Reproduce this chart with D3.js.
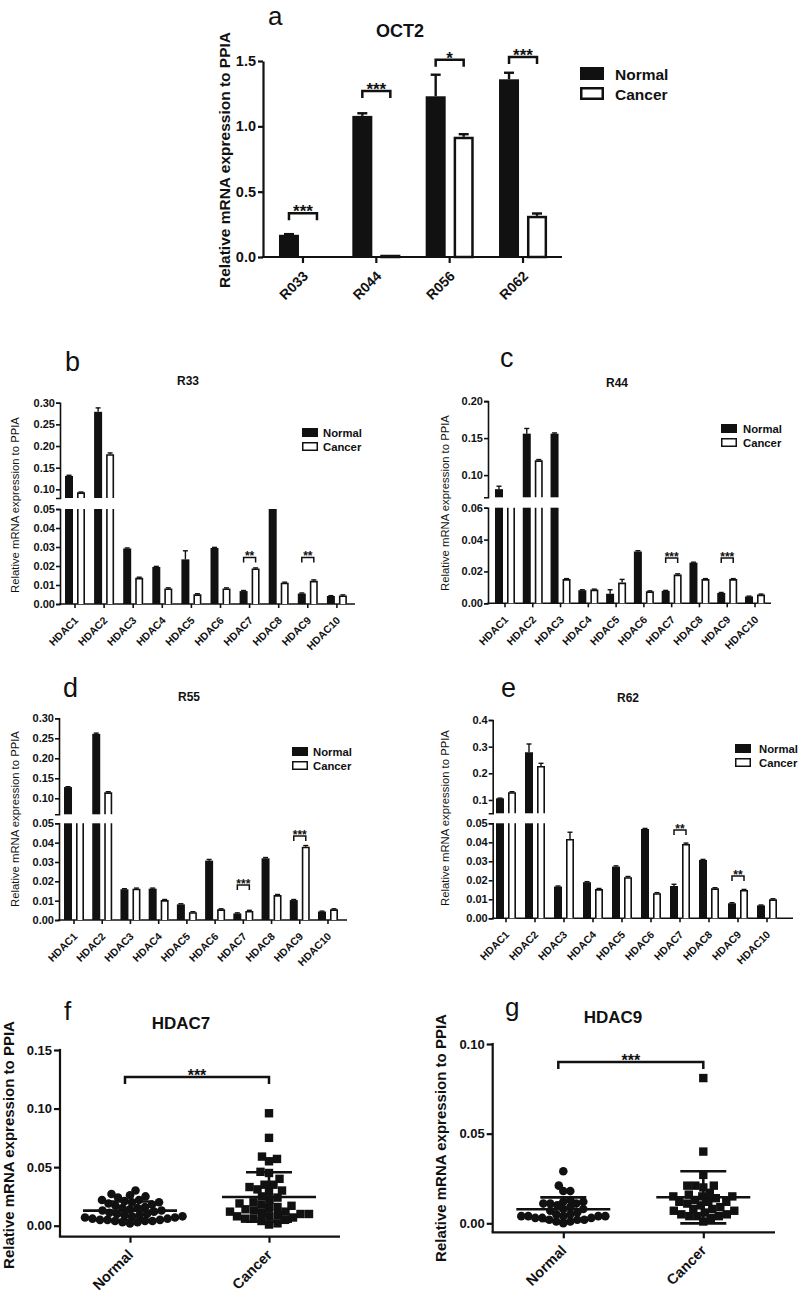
<!DOCTYPE html>
<html><head><meta charset="utf-8">
<script src="https://cdn.jsdelivr.net/npm/d3@7"></script>
<style>
body{margin:0;background:#fff}
svg{display:block}
text{font-family:'Liberation Sans',Arial,Helvetica,sans-serif;fill:#111}
</style>
</head><body>
<svg id="fig" width="800" height="1292"></svg>
<script>
// ---------------- DATA ----------------
// Panel a : OCT2
const oct2Samples = ["R033", "R044", "R056", "R062"];
const oct2Normal = [0.17, 1.08, 1.23, 1.36];
const oct2NormalErr = [0.005, 0.02, 0.165, 0.05];
const oct2Cancer = [0.0, 0.005, 0.92, 0.315];
const oct2CancerErr = [0, 0.001, 0.02, 0.018];
const oct2Sig = ["***", "***", "*", "***"];
const oct2SigY = [0.335, 1.27, 1.51, 1.53];
const oct2Ticks = [0, 0.5, 1.0, 1.5];

// Panels b-e : HDAC genes
const hdacGenes = ["HDAC1","HDAC2","HDAC3","HDAC4","HDAC5","HDAC6","HDAC7","HDAC8","HDAC9","HDAC10"];

const r33Normal    = [0.131, 0.279, 0.0292, 0.0195, 0.0235, 0.0295, 0.0068, 0.065, 0.0055, 0.0042];
const r33NormalErr = [0.0015, 0.009, 0.0003, 0.0003, 0.0045, 0.0003, 0.0003, 0, 0.0003, 0.0002];
const r33Cancer    = [0.093, 0.181, 0.0138, 0.0082, 0.0051, 0.0082, 0.0187, 0.0112, 0.0122, 0.0045];
const r33CancerErr = [0.0008, 0.003, 0.0003, 0.0003, 0.0003, 0.0003, 0.0003, 0.0003, 0.0005, 0.0003];
const r33SigIdx = [6, 8];
const r33SigY = [0.0245, 0.0245];
const r33SigText = ["**", "**"];

const r44Normal    = [0.081, 0.156, 0.156, 0.0082, 0.006, 0.0325, 0.0078, 0.0255, 0.0065, 0.0043];
const r44NormalErr = [0.004, 0.007, 0.001, 0.0003, 0.0025, 0.0005, 0.0003, 0.0003, 0.0003, 0.0002];
const r44Cancer    = [0.065, 0.120, 0.0152, 0.0086, 0.013, 0.0075, 0.018, 0.0152, 0.0152, 0.0055];
const r44CancerErr = [0, 0.001, 0.0003, 0.0003, 0.002, 0.0003, 0.0005, 0.0003, 0.0003, 0.0003];
const r44SigIdx = [6, 8];
const r44SigY = [0.0284, 0.0284];
const r44SigText = ["***", "***"];

const r55Normal    = [0.128, 0.261, 0.0159, 0.0162, 0.0081, 0.0307, 0.0034, 0.0319, 0.0103, 0.0044];
const r55NormalErr = [0.001, 0.002, 0.0003, 0.0003, 0.0003, 0.0006, 0.0003, 0.0004, 0.0003, 0.0002];
const r55Cancer    = [0.055, 0.115, 0.0162, 0.0103, 0.004, 0.0055, 0.0047, 0.0129, 0.0379, 0.0055];
const r55CancerErr = [0, 0.0015, 0.0003, 0.0003, 0.0003, 0.0003, 0.0003, 0.0003, 0.0006, 0.0003];
const r55SigIdx = [6, 8];
const r55SigY = [0.0181, 0.0434];
const r55SigText = ["***", "***"];

const r62Normal    = [0.106, 0.279, 0.0167, 0.019, 0.0272, 0.047, 0.017, 0.0307, 0.0079, 0.0068];
const r62NormalErr = [0.001, 0.031, 0.0003, 0.0003, 0.0004, 0.0003, 0.0009, 0.0003, 0.0003, 0.0002];
const r62Cancer    = [0.129, 0.2275, 0.0418, 0.0154, 0.0216, 0.0132, 0.0391, 0.0158, 0.0149, 0.010];
const r62CancerErr = [0.002, 0.01, 0.0035, 0.0003, 0.0004, 0.0003, 0.0005, 0.0003, 0.0003, 0.0003];
const r62SigIdx = [6, 8];
const r62SigY = [0.0465, 0.0223];
const r62SigText = ["**", "**"];

const lowTicks05 = [0, 0.01, 0.02, 0.03, 0.04, 0.05];
const lowTicks06 = [0, 0.02, 0.04, 0.06];
const upTicks30 = [0.10, 0.15, 0.20, 0.25, 0.30];
const upTicks20 = [0.10, 0.15, 0.20];
const upTicks40 = [0.1, 0.2, 0.3, 0.4];

// Panels f-g : scatter
const groups = ["Normal", "Cancer"];
const hdac7Normal = [0.030,0.027,0.026,0.025,0.024,0.022,0.022,0.021,0.020,0.020,0.019,0.018,0.017,0.016,0.015,0.015,0.014,0.013,0.013,0.012,0.011,0.010,0.010,0.009,0.009,0.008,0.008,0.007,0.007,0.006,0.006,0.005,0.005,0.005,0.004,0.004,0.004,0.003,0.003,0.002];
const hdac7Cancer = [0.096,0.075,0.059,0.057,0.055,0.046,0.045,0.040,0.035,0.035,0.033,0.031,0.030,0.029,0.025,0.024,0.022,0.020,0.019,0.018,0.017,0.016,0.015,0.014,0.013,0.012,0.012,0.011,0.010,0.010,0.009,0.008,0.008,0.007,0.006,0.006,0.005,0.004,0.002,0.001];
const hdac9Normal = [0.029,0.021,0.018,0.018,0.013,0.012,0.012,0.011,0.011,0.011,0.010,0.009,0.008,0.008,0.007,0.006,0.005,0.005,0.004,0.004,0.004,0.004,0.004,0.003,0.003,0.003,0.002,0.002,0.002,0.001,0.001,0.000];
const hdac9Cancer = [0.081,0.040,0.027,0.021,0.021,0.021,0.020,0.017,0.016,0.015,0.015,0.015,0.014,0.013,0.012,0.012,0.012,0.011,0.010,0.009,0.008,0.008,0.007,0.007,0.006,0.005,0.005,0.004,0.004,0.004,0.003,0.001];
const ticksF = [0, 0.05, 0.10, 0.15];
const ticksG = [0, 0.05, 0.10];

// ---------------- DRAWING ----------------
const BLACK = "#111";
const svg = d3.select("#fig");

function styleAxis(sel, sw, fs) {
  sel.selectAll("path.domain").attr("stroke", BLACK).attr("stroke-width", sw);
  sel.selectAll(".tick line").attr("stroke", BLACK).attr("stroke-width", sw);
  sel.selectAll(".tick text").attr("font-size", fs).attr("font-weight", "bold").attr("fill", BLACK)
     .attr("font-family", "'Liberation Sans',Arial,sans-serif");
}
function addText(x, y, str, size, weight, anchor, rot) {
  const t = svg.append("text").attr("font-size", size).attr("font-weight", weight || "normal")
    .attr("text-anchor", anchor || "start").text(str);
  if (rot) t.attr("transform", `translate(${x},${y}) rotate(${rot})`);
  else t.attr("x", x).attr("y", y);
  return t;
}
function line(g, x1, y1, x2, y2, sw) {
  g.append("line").attr("x1", x1).attr("y1", y1).attr("x2", x2).attr("y2", y2)
    .attr("stroke", BLACK).attr("stroke-width", sw).attr("stroke-linecap", "butt");
}
function bracket(g, x1, x2, y, drop, sw, label, fs) {
  g.append("path").attr("d", `M${x1},${y + drop}V${y}H${x2}V${y + drop}`)
    .attr("fill", "none").attr("stroke", BLACK).attr("stroke-width", sw);
  g.append("text").attr("x", (x1 + x2) / 2).attr("y", y + fs * 0.24).attr("text-anchor", "middle")
    .attr("font-size", fs).attr("font-weight", "bold").text(label);
}
function legend(g, x, y1, y2, w, h, sw, fs, tx) {
  g.append("rect").attr("x", x).attr("y", y1).attr("width", w).attr("height", h).attr("fill", BLACK);
  g.append("rect").attr("x", x + sw / 2).attr("y", y2 + sw / 2).attr("width", w - sw).attr("height", h - sw)
    .attr("fill", "#fff").attr("stroke", BLACK).attr("stroke-width", sw);
  g.append("text").attr("x", tx).attr("y", y1 + h).attr("font-size", fs).attr("font-weight", "bold").text("Normal");
  g.append("text").attr("x", tx).attr("y", y2 + h).attr("font-size", fs).attr("font-weight", "bold").text("Cancer");
}

// ===== Panel a =====
(function () {
  const g = svg.append("g");
  const axisX = 263, xEnd = 562, y0 = 257, yTop = 61;
  const y = d3.scaleLinear().domain([0, 1.5]).range([y0, yTop]);
  const x = d3.scaleBand().domain(oct2Samples).range([266.3, 559.7]);
  const cx = s => x(s) + x.bandwidth() / 2;

  const ya = g.append("g").attr("transform", `translate(${axisX},0)`)
    .call(d3.axisLeft(y).tickValues(oct2Ticks).tickFormat(d3.format(".1f")).tickSize(5).tickSizeOuter(0).tickPadding(2));
  styleAxis(ya, 2.2, 14.5);
  line(g, axisX - 1.1, y0, xEnd, y0, 2.2);
  const xa = g.append("g").attr("transform", `translate(0,${y0})`)
    .call(d3.axisBottom(x).tickSize(6).tickFormat(""));
  xa.select("path.domain").remove();
  styleAxis(xa, 2.2, 14);

  oct2Samples.forEach((s, i) => {
    const c = cx(s);
    const yn = y(oct2Normal[i]);
    g.append("rect").attr("x", c - 24).attr("y", yn).attr("width", 20).attr("height", y0 - yn).attr("fill", BLACK);
    if (oct2NormalErr[i] > 0) {
      const ye = y(oct2Normal[i] + oct2NormalErr[i]);
      line(g, c - 14, yn, c - 14, ye, 2.4);
      line(g, c - 19, ye, c - 9, ye, 2.4);
    }
    const yc = y(oct2Cancer[i]);
    if (y0 - yc > 0.2) {
      g.append("rect").attr("x", c + 5.2).attr("y", Math.min(yc + 1.2, y0 - 1)).attr("width", 17.6)
        .attr("height", Math.max(y0 - yc - 1.2, 1)).attr("fill", "#fff").attr("stroke", BLACK).attr("stroke-width", 2.5);
    }
    if (oct2CancerErr[i] > 0.002) {
      const ye = y(oct2Cancer[i] + oct2CancerErr[i]);
      line(g, c + 14, yc, c + 14, ye, 2.4);
      line(g, c + 9, ye, c + 19, ye, 2.4);
    }
    bracket(g, c - 14, c + 14, y(oct2SigY[i]), 7, 2.5, oct2Sig[i], 17);
    addText(c + 6, y0 + 20, s, 14, "bold", "end", -45);
  });

  legend(g, 580, 67, 87, 24, 13, 2.5, 15.5, 615);
  addText(400, 37, "OCT2", 18, "bold", "middle");
  addText(268, 25, "a", 26, "normal");
  addText(230, 160, "Relative mRNA expression to PPIA", 15.5, "bold", "middle", -90);
})();

// ===== Panels b-e (broken axis) =====
function brokenPanel(o) {
  const g = svg.append("g");
  const low = d3.scaleLinear().domain([0, o.lowMax]).range([o.y0, o.yLowTop]);
  const up = d3.scaleLinear().domain([o.upMin, o.upMax]).range([o.yUpBottom, o.yUpTop]);
  const x = d3.scaleBand().domain(hdacGenes).range(o.band);
  const cx = d => x(d) + x.bandwidth() / 2;
  const SW = 1.6;

  const al = g.append("g").attr("transform", `translate(${o.axisX},0)`)
    .call(d3.axisLeft(low).tickValues(o.lowTicks).tickFormat(d3.format(".2f")).tickSize(4).tickSizeOuter(4).tickPadding(1));
  styleAxis(al, SW, 11);
  const au = g.append("g").attr("transform", `translate(${o.axisX},0)`)
    .call(d3.axisLeft(up).tickValues(o.upTicks).tickFormat(d3.format(o.upFmt)).tickSize(4).tickSizeOuter(4).tickPadding(1));
  styleAxis(au, SW, 11);
  line(g, o.axisX - SW / 2, o.y0, o.xEnd, o.y0, SW);
  const xa = g.append("g").attr("transform", `translate(0,${o.y0})`)
    .call(d3.axisBottom(x).tickSize(4).tickFormat(""));
  xa.select("path.domain").remove();
  styleAxis(xa, SW, 10);

  function bar(x0, w, v, err, filled) {
    const clipped = v > o.lowMax;
    const yt = low(Math.min(v, o.lowMax));
    if (filled) {
      g.append("rect").attr("x", x0).attr("y", yt).attr("width", w).attr("height", o.y0 - yt).attr("fill", BLACK);
    } else {
      g.append("rect").attr("x", x0).attr("y", yt).attr("width", w).attr("height", o.y0 - yt).attr("fill", "#fff");
      const d = clipped
        ? `M${x0 + SW / 2},${o.y0}V${yt}M${x0 + w - SW / 2},${yt}V${o.y0}`
        : `M${x0 + SW / 2},${o.y0}V${yt + SW / 2}H${x0 + w - SW / 2}V${o.y0}`;
      g.append("path").attr("d", d).attr("fill", "none").attr("stroke", BLACK).attr("stroke-width", SW);
    }
    let s = null;
    if (v > o.upMin) {
      const yu = up(v);
      s = up;
      if (filled) {
        g.append("rect").attr("x", x0).attr("y", yu).attr("width", w).attr("height", o.yUpBottom - yu).attr("fill", BLACK);
      } else {
        g.append("path").attr("d", `M${x0 + SW / 2},${o.yUpBottom}V${yu + SW / 2}H${x0 + w - SW / 2}V${o.yUpBottom}`)
          .attr("fill", "#fff").attr("stroke", BLACK).attr("stroke-width", SW);
      }
    } else if (!clipped) s = low;
    if (s && err > 0) {
      const ye = s(v + err);
      line(g, x0 + w / 2, s(v), x0 + w / 2, ye, 1.4);
      line(g, x0 + w / 2 - 2.5, ye, x0 + w / 2 + 2.5, ye, 1.4);
    }
  }

  hdacGenes.forEach((gene, i) => {
    const c = cx(gene);
    bar(c - 10, 8, o.normal[i], o.normalErr[i], true);
    bar(c + 2, 8, o.cancer[i], o.cancerErr[i], false);
    addText(c + 4, o.y0 + 17, gene, 10.5, "bold", "end", -45);
  });
  o.sigIdx.forEach((idx, k) => {
    const c = cx(hdacGenes[idx]);
    bracket(g, c - 6, c + 6, low(o.sigY[k]), 5, 1.5, o.sigText[k], 12);
  });

  legend(g, o.legX, o.legY1, o.legY2, 16, 9, 1.5, 11.3, o.legTx);
  addText(o.titleX, o.titleY, o.title, 12, "bold", "middle");
  addText(o.letterX, o.letterY, o.letter, 27, "normal");
  addText(o.ylabX, o.ylabY, "Relative mRNA expression to PPIA", 11.3, "normal", "middle", -90);
}

brokenPanel({
  axisX: 60, xEnd: 355, y0: 604, lowMax: 0.05, yLowTop: 509, upMin: 0.08, upMax: 0.30, yUpBottom: 498, yUpTop: 402.7,
  band: [60.45, 351.45], lowTicks: lowTicks05, upTicks: upTicks30, upFmt: ".2f",
  normal: r33Normal, normalErr: r33NormalErr, cancer: r33Cancer, cancerErr: r33CancerErr,
  sigIdx: r33SigIdx, sigY: r33SigY, sigText: r33SigText,
  legX: 302, legY1: 428, legY2: 442, legTx: 323,
  title: "R33", titleX: 188, titleY: 385, letter: "b", letterX: 65, letterY: 371, ylabX: 19, ylabY: 505
});
brokenPanel({
  axisX: 488, xEnd: 771, y0: 603.3, lowMax: 0.06, yLowTop: 507.7, upMin: 0.07, upMax: 0.20, yUpBottom: 497.3, yUpTop: 401.1,
  band: [491.1, 768.9], lowTicks: lowTicks06, upTicks: upTicks20, upFmt: ".2f",
  normal: r44Normal, normalErr: r44NormalErr, cancer: r44Cancer, cancerErr: r44CancerErr,
  sigIdx: r44SigIdx, sigY: r44SigY, sigText: r44SigText,
  legX: 721, legY1: 424, legY2: 438, legTx: 743,
  title: "R44", titleX: 617, titleY: 387, letter: "c", letterX: 500, letterY: 367, ylabX: 449, ylabY: 503
});
brokenPanel({
  axisX: 59, xEnd: 347, y0: 920, lowMax: 0.05, yLowTop: 823.3, upMin: 0.06, upMax: 0.30, yUpBottom: 814.3, yUpTop: 718.3,
  band: [59.9, 342.1], lowTicks: lowTicks05, upTicks: upTicks30, upFmt: ".2f",
  normal: r55Normal, normalErr: r55NormalErr, cancer: r55Cancer, cancerErr: r55CancerErr,
  sigIdx: r55SigIdx, sigY: r55SigY, sigText: r55SigText,
  legX: 292, legY1: 747, legY2: 761, legTx: 313,
  title: "R55", titleX: 189, titleY: 701, letter: "d", letterX: 63, letterY: 697, ylabX: 19, ylabY: 819
});
brokenPanel({
  axisX: 492.7, xEnd: 793, y0: 918.3, lowMax: 0.05, yLowTop: 823.3, upMin: 0.05, upMax: 0.40, yUpBottom: 813.3, yUpTop: 720,
  band: [491.5, 781.5], lowTicks: lowTicks05, upTicks: upTicks40, upFmt: ".1f",
  normal: r62Normal, normalErr: r62NormalErr, cancer: r62Cancer, cancerErr: r62CancerErr,
  sigIdx: r62SigIdx, sigY: r62SigY, sigText: r62SigText,
  legX: 735, legY1: 744, legY2: 758, legTx: 759,
  title: "R62", titleX: 628, titleY: 702, letter: "e", letterX: 501, letterY: 697, ylabX: 449, ylabY: 818
});

// ===== Panels f-g (scatter) =====
function swarm(vals, y, cx, minD) {
  const pts = vals.map(v => ({ v, py: y(v) })).sort((a, b) => b.py - a.py);
  const placed = [];
  pts.forEach(p => {
    let off = 0;
    for (let k = 0; k < 600; k++) {
      const cand = k === 0 ? 0 : (k % 2 ? 1 : -1) * Math.ceil(k / 2) * 0.5;
      if (placed.every(q => (q.dx - cand) ** 2 + (q.py - p.py) ** 2 >= minD * minD)) { off = cand; break; }
    }
    p.dx = off; placed.push(p);
  });
  return placed.map(p => ({ x: cx + p.dx, y: p.py }));
}

function scatterPanel(o) {
  const g = svg.append("g");
  const y = d3.scaleLinear().domain([0, o.yMax]).range([o.y0, o.yTop]);
  const x = d3.scalePoint().domain(groups).range([o.cN, o.cC]);
  const SW = 2.2;
  const ay = g.append("g").attr("transform", `translate(${o.axisX},0)`)
    .call(d3.axisLeft(y).tickValues(o.ticks).tickFormat(d3.format(".2f")).tickSize(6).tickPadding(2));
  ay.select("path.domain").remove();
  styleAxis(ay, SW, 13);
  line(g, o.axisX, o.yTop - SW / 2, o.axisX, o.xAxisY, SW);
  line(g, o.axisX - SW / 2, o.xAxisY, o.xEnd, o.xAxisY, SW);
  const ax = g.append("g").attr("transform", `translate(0,${o.xAxisY})`)
    .call(d3.axisBottom(x).tickSize(6).tickFormat(""));
  ax.select("path.domain").remove();
  styleAxis(ax, SW, 13);

  swarm(o.normal, y, x("Normal"), o.dN).forEach(p => {
    g.append("circle").attr("cx", p.x).attr("cy", p.y).attr("r", 4.3).attr("fill", BLACK);
  });
  swarm(o.cancer, y, x("Cancer"), o.dC).forEach(p => {
    g.append("rect").attr("x", p.x - 4.2).attr("y", p.y - 4.2).attr("width", 8.4).attr("height", 8.4).attr("fill", BLACK);
  });
  [[o.normal, "Normal"], [o.cancer, "Cancer"]].forEach(([vals, grp]) => {
    const c = x(grp), m = d3.mean(vals), sd = d3.deviation(vals);
    line(g, c - 47, y(m), c + 47, y(m), 2.6);
    line(g, c, y(m - sd), c, y(m + sd), 2.6);
    line(g, c - 23, y(m + sd), c + 23, y(m + sd), 2.6);
    line(g, c - 23, y(m - sd), c + 23, y(m - sd), 2.6);
  });
  bracket(g, x("Normal") - 5, x("Cancer"), y(o.sigY), 7, 2.5, "***", 16);
  groups.forEach(grp => addText(x(grp) + 4, o.xAxisY + 19, grp, 14.5, "bold", "end", -45));
  addText(o.titleX, o.titleY, o.title, 17, "bold", "middle");
  addText(o.letterX, o.letterY, o.letter, 26, "normal");
  addText(o.ylabX, o.ylabY, "Relative mRNA expression to PPIA", 15, "bold", "middle", -90);
}

scatterPanel({
  axisX: 60, xEnd: 340, y0: 1225.7, yTop: 1050, yMax: 0.15, xAxisY: 1236.7, cN: 130, cC: 269,
  ticks: ticksF, normal: hdac7Normal, cancer: hdac7Cancer, sigY: 0.127, dN: 7.2, dC: 8.2,
  title: "HDAC7", titleX: 181, titleY: 1029, letter: "f", letterX: 64, letterY: 1020, ylabX: 14, ylabY: 1145
});
scatterPanel({
  axisX: 492.7, xEnd: 775, y0: 1223.3, yTop: 1044, yMax: 0.10, xAxisY: 1232.3, cN: 563.3, cC: 703.3,
  ticks: ticksG, normal: hdac9Normal, cancer: hdac9Cancer, sigY: 0.09, dN: 6.8, dC: 8.0,
  title: "HDAC9", titleX: 613, titleY: 1023, letter: "g", letterX: 505, letterY: 1016, ylabX: 446, ylabY: 1138
});
</script>
</body></html>
